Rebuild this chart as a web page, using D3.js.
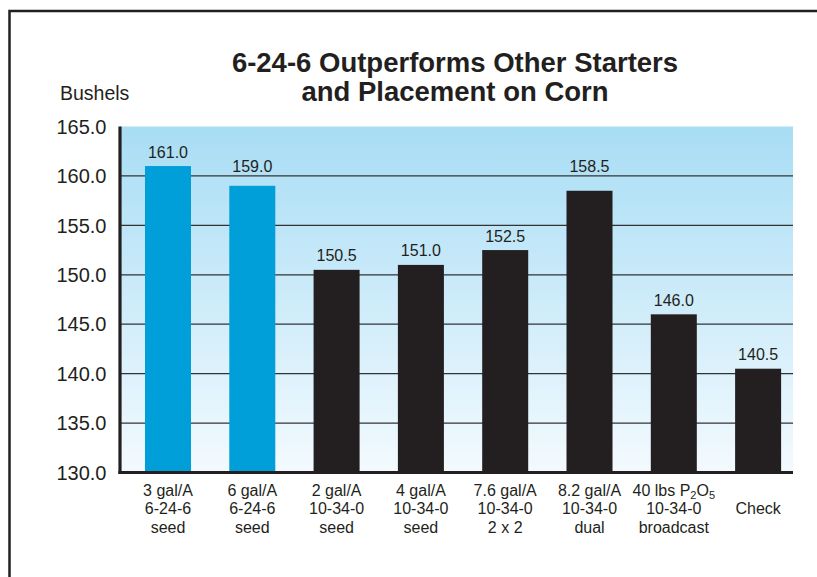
<!DOCTYPE html>
<html><head><meta charset="utf-8">
<script src="https://cdn.jsdelivr.net/npm/d3@7"></script>
<style>
html,body{margin:0;padding:0;background:#fff;}
svg{display:block;font-family:"Liberation Sans",Arial,Helvetica,sans-serif;}
</style></head>
<body>
<svg id="chart" width="817" height="577"></svg>
<script>
const categories = [
  ["3 gal/A","6-24-6","seed"],
  ["6 gal/A","6-24-6","seed"],
  ["2 gal/A","10-34-0","seed"],
  ["4 gal/A","10-34-0","seed"],
  ["7.6 gal/A","10-34-0","2 x 2"],
  ["8.2 gal/A","10-34-0","dual"],
  ["40 lbs P2O5","10-34-0","broadcast"],
  ["","Check",""]
];
const values = [161.0, 159.0, 150.5, 151.0, 152.5, 158.5, 146.0, 140.5];
const highlighted = [true, true, false, false, false, false, false, false];
const yTicks = [130, 135, 140, 145, 150, 155, 160, 165];
const titleLines = ["6-24-6 Outperforms Other Starters", "and Placement on Corn"];
const yAxisLabel = "Bushels";

const svg = d3.select("#chart");
const ink = "#231f20";
const plot = {left: 120, right: 793, top: 126.5, bottom: 472.5};

const defs = svg.append("defs");
const grad = defs.append("linearGradient").attr("id","bg").attr("x1",0).attr("y1",0).attr("x2",0).attr("y2",1);
grad.append("stop").attr("offset","0%").attr("stop-color","#a8ddf5");
grad.append("stop").attr("offset","100%").attr("stop-color","#f3fafe");

// frame
svg.append("path").attr("d","M9.5,577V11H817").attr("fill","none").attr("stroke",ink).attr("stroke-width",2.5);

const y = d3.scaleLinear().domain([130,165]).range([plot.bottom, plot.top]);
const x = d3.scaleBand().domain(d3.range(categories.length)).range([125.85, 800.25]).paddingInner(0.4543).paddingOuter(0.227);

svg.append("rect").attr("x",plot.left).attr("y",plot.top).attr("width",plot.right-plot.left).attr("height",plot.bottom-plot.top).attr("fill","url(#bg)");

// gridlines
const gridVals = yTicks.filter(t=>t>130 && t<165);
svg.append("g").selectAll("line").data(gridVals).join("line")
  .attr("x1",plot.left).attr("x2",plot.right).attr("y1",d=>y(d)).attr("y2",d=>y(d))
  .attr("stroke","#333").attr("stroke-width",1.3);

// bars
svg.append("g").selectAll("rect").data(values).join("rect")
  .attr("x",(d,i)=>x(i)).attr("width",x.bandwidth())
  .attr("y",d=>y(d)).attr("height",d=>y(130)-y(d))
  .attr("fill",(d,i)=>highlighted[i] ? "#009fda" : ink);

// value labels (lifted above a gridline if they would cross it)
function labelY(v){
  let b = y(v)-8.5;
  gridVals.forEach(g=>{
    const gy = y(g);
    if(gy > b-12 && gy < b+3) b = gy-4;
  });
  return b;
}
svg.append("g").selectAll("text").data(values).join("text")
  .attr("x",(d,i)=>x(i)+x.bandwidth()/2).attr("y",d=>labelY(d))
  .attr("text-anchor","middle").attr("font-size",16).attr("fill",ink)
  .text(d=>d.toFixed(1));

// axes lines
svg.append("line").attr("x1",120).attr("x2",120).attr("y1",plot.top).attr("y2",plot.bottom+1.5).attr("stroke",ink).attr("stroke-width",3.2);
svg.append("line").attr("x1",118.4).attr("x2",plot.right).attr("y1",plot.bottom).attr("y2",plot.bottom).attr("stroke",ink).attr("stroke-width",3);

// y tick labels
svg.append("g").selectAll("text").data(yTicks).join("text")
  .attr("x",106.5).attr("y",d=>y(d)).attr("dy","0.36em")
  .attr("text-anchor","end").attr("font-size",20).attr("fill",ink)
  .text(d=>d.toFixed(1));

svg.append("text").attr("x",60).attr("y",100).attr("font-size",19.5).attr("fill",ink).text(yAxisLabel);

// title
svg.append("g").selectAll("text").data(titleLines).join("text")
  .attr("x",455).attr("y",(d,i)=>72+i*29).attr("text-anchor","middle")
  .attr("font-size",27.5).attr("font-weight","bold").attr("fill",ink).text(d=>d);

// x labels
const xl = svg.append("g");
categories.forEach((lines,i)=>{
  lines.forEach((ln,j)=>{
    if(!ln) return;
    const t = xl.append("text").attr("x",x(i)+x.bandwidth()/2).attr("y",496+j*18.3)
      .attr("text-anchor","middle").attr("font-size",16).attr("fill",ink);
    const m = ln.match(/^(.*)P2O5$/);
    if(m){
      t.append("tspan").text(m[1]+"P");
      t.append("tspan").attr("font-size",11).attr("dy",3).text("2");
      t.append("tspan").attr("dy",-3).text("O");
      t.append("tspan").attr("font-size",11).attr("dy",3).text("5");
    } else t.text(ln);
  });
});
</script>
</body></html>
